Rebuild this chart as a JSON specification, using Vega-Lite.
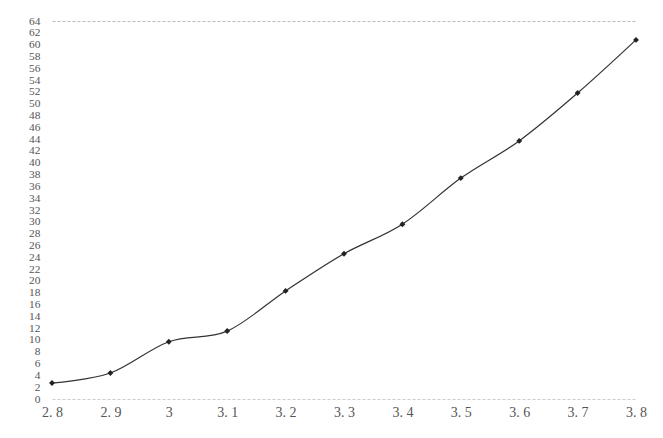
{
  "$schema": "https://vega.github.io/schema/vega-lite/v6.json",
  "width": 584,
  "height": 378,
  "autosize": "none",
  "padding": {"left": 52, "top": 21, "right": 27, "bottom": 39},
  "background": "white",
  "config": {"view": {"stroke": null}, "font": "Liberation Serif"},
  "data": {"values": [
    {"x": 2.8, "y": 2.7},
    {"x": 2.9, "y": 4.4},
    {"x": 3.0, "y": 9.7},
    {"x": 3.1, "y": 11.5},
    {"x": 3.2, "y": 18.3},
    {"x": 3.3, "y": 24.6},
    {"x": 3.4, "y": 29.6},
    {"x": 3.5, "y": 37.4},
    {"x": 3.6, "y": 43.7},
    {"x": 3.7, "y": 51.8},
    {"x": 3.8, "y": 60.8}
  ]},
  "encoding": {
    "x": {"field": "x", "type": "quantitative",
      "scale": {"domain": [2.8, 3.8], "nice": false, "zero": false},
      "axis": {"title": null, "values": [2.8, 2.9, 3.0, 3.1, 3.2, 3.3, 3.4, 3.5, 3.6, 3.7, 3.8],
        "labelExpr": "replace(format(datum.value, '~g'), '.', '. ')",
        "labelOverlap": false, "labelFlush": false,
        "grid": false, "ticks": false, "domainColor": "#cccccc", "domainDash": [3, 2],
        "labelPadding": 6, "labelFontSize": 14, "labelColor": "#555555", "labelFont": "Liberation Serif"}},
    "y": {"field": "y", "type": "quantitative",
      "scale": {"domain": [0, 64], "nice": false},
      "axis": {"title": null, "values": [0,2,4,6,8,10,12,14,16,18,20,22,24,26,28,30,32,34,36,38,40,42,44,46,48,50,52,54,56,58,60,62,64],
        "labelOverlap": false, "labelFlush": false,
        "domain": false, "ticks": false, "labelPadding": 12, "labelFontSize": 11.4, "labelColor": "#555555",
        "labelFont": "Liberation Serif",
        "grid": true, "gridColor": "#bbbbbb", "gridDash": [3, 2],
        "gridOpacity": {"condition": {"test": "datum.value === 64", "value": 1}, "value": 0}}}
  },
  "layer": [
    {"mark": {"type": "line", "interpolate": "cardinal", "color": "#333333", "strokeWidth": 1.2}},
    {"mark": {"type": "point", "shape": "diamond", "filled": true, "color": "#222222", "size": 35, "opacity": 1}}
  ]
}
